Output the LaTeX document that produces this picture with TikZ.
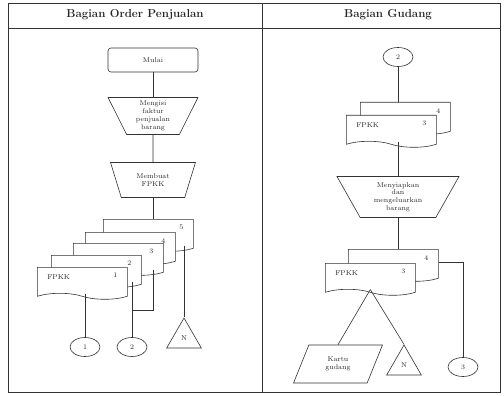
\documentclass[tikz,border=0pt]{standalone}
\usetikzlibrary{shapes.geometric,shapes.symbols}
\begin{document}
\begin{tikzpicture}[x=1pt,y=-1pt,line width=0.6pt,
  every node/.style={font=\fontsize{7}{7.8}\selectfont,text=black!85},
  judul/.style={font=\fontsize{11.5}{14}\selectfont\bfseries},
  startbox/.style={draw=black!80,rounded corners=3pt,minimum width=90,minimum height=24},
  manual/.style={draw=black!80,trapezium,shape border rotate=180,trapezium stretches=true,
    trapezium angle=68,align=center,inner sep=1pt},
  docu/.style={draw=black!80,fill=white,tape,tape bend top=none,tape bend bottom=out and in,
    tape bend height=6,minimum width=90,minimum height=32,anchor=north west,inner sep=0pt},
  nomor/.style={anchor=north east,inner sep=0pt,xshift=-10,yshift=-6},
  kode/.style={anchor=north west,inner sep=0pt,xshift=10,yshift=-7},
  conn/.style={draw=black!80,ellipse,minimum width=30,minimum height=19,inner sep=0pt},
  arsip/.style={draw=black!80,regular polygon,regular polygon sides=3,minimum size=40,inner sep=0pt},
  kartu/.style={draw=black!80,trapezium,trapezium left angle=66,trapezium right angle=114,
    trapezium stretches=true,minimum width=89,minimum height=38,align=center,inner sep=1pt},
  garis/.style={draw=black!80}]
  \useasboundingbox (0,0) rectangle (504,396);

  % kerangka
  \draw[garis] (8,3) rectangle (500,392);
  \draw[garis] (8,28) -- (500,28);
  \draw[garis] (262,3) -- (262,392);
  \node[judul] (hOrder) at (135,15) {Bagian Order Penjualan};
  \node[judul] (hGudang) at (388,15) {Bagian Gudang};

  % bagian order penjualan
  \node[startbox] (mulai) at (153,60) {Mulai};
  \node[manual,minimum width=90,minimum height=37] (isi) at (153,116) {Mengisi\\faktur\\penjualan\\barang};
  \node[manual,minimum width=85,minimum height=35] (buat) at (153,180) {Membuat\\FPKK};

  \node[docu,label={[nomor]north east:5}] (d5) at (103,219) {};
  \node[docu,label={[nomor]north east:4}] (d4) at (85,232) {};
  \node[docu,label={[nomor]north east:3}] (d3) at (73,243) {};
  \node[docu,label={[nomor]north east:2}] (d2) at (51,255) {};
  \node[docu,label={[nomor]north east:1},label={[kode]north west:FPKK}] (d1) at (37,267) {};

  \node[conn] (c1) at (85,347) {1};
  \node[conn] (c2) at (132,347) {2};
  \node[arsip] (nA) at (184,338) {N};
  \coordinate (j2) at (153,310);

  \draw[garis] (mulai) -- (isi);
  \draw[garis] (isi) -- (buat);
  \draw[garis] (buat.south) -- (buat.south |- d5.north);
  \draw[garis] (c1.north |- d1.south) -- (c1.north);
  \draw[garis] (c2.north |- d2.south east) -- (c2.north);
  \draw[garis] (d3.south east -| j2) -- (j2) -- (j2 -| c2.north);
  \draw[garis] (nA.north |- d5.south east) -- (nA.north);

  % bagian gudang
  \node[conn] (c2r) at (398,57) {2};
  \node[docu,label={[nomor]north east:4}] (rb1) at (360,102) {};
  \node[docu,label={[nomor]north east:3},label={[kode]north west:FPKK}] (rf1) at (346,115) {};
  \node[manual,minimum width=123,minimum height=41,trapezium angle=64] (siap) at (398,197) {Menyiapkan\\dan\\mengeluarkan\\barang};
  \node[docu,label={[nomor]north east:4}] (rb2) at (348,249) {};
  \node[docu,label={[nomor]north east:3},label={[kode]north west:FPKK}] (rf2) at (325,263) {};
  \node[kartu] (kg) at (338,364) {Kartu\\gudang};
  \node[arsip] (nB) at (404,365) {N};
  \node[conn] (c3) at (463,367) {3};

  \draw[garis] (c2r.south) -- (c2r.south |- rb1.north);
  \draw[garis] (siap.north |- rf1.south) -- (siap.north);
  \draw[garis] (siap.south) -- (siap.south |- rb2.north);
  \draw[garis] (rb2.east) -| (c3.north);
  \draw[garis] (rf2.south) -- (kg.north);
  \draw[garis] (rf2.south) -- (nB.north);
\end{tikzpicture}
\end{document}
